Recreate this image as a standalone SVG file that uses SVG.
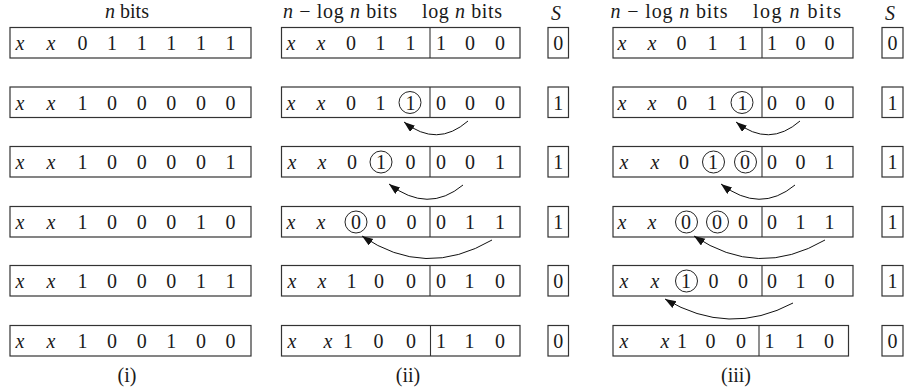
<svg xmlns="http://www.w3.org/2000/svg" width="904" height="389" viewBox="0 0 904 389">
<style>
text{text-anchor:middle}
.v{font-style:italic}
.box{fill:none;stroke:#333;stroke-width:1.2}
.div{stroke:#333;stroke-width:1.1}
.c{fill:none;stroke:#222;stroke-width:1}
.arr{fill:none;stroke:#111;stroke-width:1;marker-end:url(#ah)}
</style>
<defs>
<marker id="ah" markerUnits="userSpaceOnUse" markerWidth="12" markerHeight="9" refX="11" refY="4" orient="auto">
<path d="M0,0 L11,4 L0,8 z" fill="#111"/>
</marker>
</defs>
<rect width="904" height="389" fill="#fff"/>
<g font-family="'Liberation Serif', 'Times New Roman', serif" font-size="20" fill="#1a1a1a">
<g id="labels">
<text x="127" y="18"><tspan class="v">n</tspan> bits</text>
<text x="340" y="18" textLength="114" lengthAdjust="spacing"><tspan class="v">n</tspan> − log <tspan class="v">n</tspan> bits</text>
<text x="462" y="18" textLength="80" lengthAdjust="spacing">log <tspan class="v">n</tspan> bits</text>
<text x="556" y="20" class="v">S</text>
<text x="669" y="18" textLength="117" lengthAdjust="spacing"><tspan class="v">n</tspan> − log <tspan class="v">n</tspan> bits</text>
<text x="797" y="18" textLength="88" lengthAdjust="spacing">log <tspan class="v">n</tspan> bits</text>
<text x="890" y="20" class="v">S</text>
<text x="127" y="382">(i)</text>
<text x="408" y="382">(ii)</text>
<text x="736" y="382">(iii)</text>
</g>

<!-- Panel (i) -->
<g id="p1-r1">
<rect class="box" x="10" y="27.5" width="241" height="30.5"/>
<text class="v" x="20" y="50">x</text><text class="v" x="51" y="50">x</text>
<text x="82.5" y="50">0</text><text x="112" y="50">1</text><text x="141.7" y="50">1</text><text x="171.3" y="50">1</text><text x="201" y="50">1</text><text x="230.5" y="50">1</text>
</g>
<g id="p1-r2">
<rect class="box" x="10" y="87" width="241" height="30.5"/>
<text class="v" x="20" y="109.5">x</text><text class="v" x="51" y="109.5">x</text>
<text x="82.5" y="109.5">1</text><text x="112" y="109.5">0</text><text x="141.7" y="109.5">0</text><text x="171.3" y="109.5">0</text><text x="201" y="109.5">0</text><text x="230.5" y="109.5">0</text>
</g>
<g id="p1-r3">
<rect class="box" x="10" y="146.5" width="241" height="30.5"/>
<text class="v" x="20" y="169">x</text><text class="v" x="51" y="169">x</text>
<text x="82.5" y="169">1</text><text x="112" y="169">0</text><text x="141.7" y="169">0</text><text x="171.3" y="169">0</text><text x="201" y="169">0</text><text x="230.5" y="169">1</text>
</g>
<g id="p1-r4">
<rect class="box" x="10" y="206.5" width="241" height="30.5"/>
<text class="v" x="20" y="229">x</text><text class="v" x="51" y="229">x</text>
<text x="82.5" y="229">1</text><text x="112" y="229">0</text><text x="141.7" y="229">0</text><text x="171.3" y="229">0</text><text x="201" y="229">1</text><text x="230.5" y="229">0</text>
</g>
<g id="p1-r5">
<rect class="box" x="10" y="265.5" width="241" height="30.5"/>
<text class="v" x="20" y="288">x</text><text class="v" x="51" y="288">x</text>
<text x="82.5" y="288">1</text><text x="112" y="288">0</text><text x="141.7" y="288">0</text><text x="171.3" y="288">0</text><text x="201" y="288">1</text><text x="230.5" y="288">1</text>
</g>
<g id="p1-r6">
<rect class="box" x="10" y="325.5" width="241" height="30.5"/>
<text class="v" x="20" y="348">x</text><text class="v" x="51" y="348">x</text>
<text x="82.5" y="348">1</text><text x="112" y="348">0</text><text x="141.7" y="348">0</text><text x="171.3" y="348">1</text><text x="201" y="348">0</text><text x="230.5" y="348">0</text>
</g>

<!-- Panel (ii) -->
<g id="p2-r1">
<rect class="box" x="281.5" y="27.5" width="238.5" height="30.5"/>
<line class="div" x1="430" y1="27.5" x2="430" y2="58"/>
<text class="v" x="291" y="50">x</text><text class="v" x="321" y="50">x</text>
<text x="351" y="50">0</text><text x="380.5" y="50">1</text><text x="410.5" y="50">1</text>
<text x="441" y="50">1</text><text x="470" y="50">0</text><text x="500" y="50">0</text>
</g>
<g id="p2-r2">
<rect class="box" x="281.5" y="87" width="238.5" height="30.5"/>
<line class="div" x1="430" y1="87" x2="430" y2="117.5"/>
<text class="v" x="291" y="109.5">x</text><text class="v" x="321" y="109.5">x</text>
<text x="351" y="109.5">0</text><text x="380.5" y="109.5">1</text><text x="410.5" y="109.5">1</text>
<circle class="c" cx="410" cy="102.5" r="11"/>
<text x="441" y="109.5">0</text><text x="470" y="109.5">0</text><text x="500" y="109.5">0</text>
</g>
<g id="p2-r3">
<rect class="box" x="281.5" y="146.5" width="238.5" height="30.5"/>
<line class="div" x1="430" y1="146.5" x2="430" y2="177"/>
<text class="v" x="292" y="169">x</text><text class="v" x="322" y="169">x</text>
<text x="352" y="169">0</text><text x="381" y="169">1</text><text x="410.5" y="169">0</text>
<circle class="c" cx="381" cy="162" r="11"/>
<text x="441" y="169">0</text><text x="470" y="169">0</text><text x="500" y="169">1</text>
</g>
<g id="p2-r4">
<rect class="box" x="281.5" y="206.5" width="238.5" height="30.5"/>
<line class="div" x1="430" y1="206.5" x2="430" y2="237"/>
<text class="v" x="291" y="229">x</text><text class="v" x="321" y="229">x</text>
<text x="356" y="229">0</text><text x="381" y="229">0</text><text x="411.5" y="229">0</text>
<circle class="c" cx="356" cy="222" r="11"/>
<text x="441" y="229">0</text><text x="470" y="229">1</text><text x="500" y="229">1</text>
</g>
<g id="p2-r5">
<rect class="box" x="281.5" y="265.5" width="238.5" height="30.5"/>
<line class="div" x1="430" y1="265.5" x2="430" y2="296"/>
<text class="v" x="292" y="288">x</text><text class="v" x="322" y="288">x</text>
<text x="351.5" y="288">1</text><text x="379" y="288">0</text><text x="411" y="288">0</text>
<text x="441" y="288">0</text><text x="469.5" y="288">1</text><text x="500" y="288">0</text>
</g>
<g id="p2-r6">
<rect class="box" x="281.5" y="325.5" width="238.5" height="30.5"/>
<line class="div" x1="430.5" y1="325.5" x2="430.5" y2="356"/>
<text class="v" x="292" y="348">x</text><text class="v" x="328" y="348">x</text>
<text x="348" y="348">1</text><text x="378.5" y="348">0</text><text x="411" y="348">0</text>
<text x="441" y="348">1</text><text x="469.5" y="348">1</text><text x="500" y="348">0</text>
</g>
<g id="p2-s">
<rect class="box" x="548" y="27.5" width="20.5" height="30.5"/><text x="558.2" y="50">0</text>
<rect class="box" x="548" y="87" width="20.5" height="30.5"/><text x="558.2" y="109.5">1</text>
<rect class="box" x="548" y="146.5" width="20.5" height="30.5"/><text x="558.2" y="169">1</text>
<rect class="box" x="548" y="206.5" width="20.5" height="30.5"/><text x="558.2" y="229">1</text>
<rect class="box" x="548" y="265.5" width="20.5" height="30.5"/><text x="558.2" y="288">0</text>
<rect class="box" x="548" y="325.5" width="20.5" height="30.5"/><text x="558.2" y="348">0</text>
</g>

<!-- Panel (iii) -->
<g id="p3-r1">
<rect class="box" x="613" y="27.5" width="240" height="30.5"/>
<line class="div" x1="762" y1="27.5" x2="762" y2="58"/>
<text class="v" x="622" y="50">x</text><text class="v" x="652" y="50">x</text>
<text x="681.5" y="50">0</text><text x="712.5" y="50">1</text><text x="742.5" y="50">1</text>
<text x="772" y="50">1</text><text x="800.5" y="50">0</text><text x="829.5" y="50">0</text>
</g>
<g id="p3-r2">
<rect class="box" x="613" y="87" width="240" height="30.5"/>
<line class="div" x1="762" y1="87" x2="762" y2="117.5"/>
<text class="v" x="622" y="109.5">x</text><text class="v" x="652" y="109.5">x</text>
<text x="682" y="109.5">0</text><text x="712" y="109.5">1</text><text x="742.5" y="109.5">1</text>
<circle class="c" cx="742" cy="102.5" r="11"/>
<text x="772" y="109.5">0</text><text x="800.5" y="109.5">0</text><text x="829.5" y="109.5">0</text>
</g>
<g id="p3-r3">
<rect class="box" x="613" y="146.5" width="240" height="30.5"/>
<line class="div" x1="762" y1="146.5" x2="762" y2="177"/>
<text class="v" x="624" y="169">x</text><text class="v" x="655" y="169">x</text>
<text x="684" y="169">0</text><text x="713" y="169">1</text><text x="745" y="169">0</text>
<circle class="c" cx="713.5" cy="162" r="11"/>
<circle class="c" cx="745.5" cy="162" r="11"/>
<text x="772" y="169">0</text><text x="800.5" y="169">0</text><text x="829.5" y="169">1</text>
</g>
<g id="p3-r4">
<rect class="box" x="613" y="206.5" width="240" height="30.5"/>
<line class="div" x1="762" y1="206.5" x2="762" y2="237"/>
<text class="v" x="622" y="229">x</text><text class="v" x="652" y="229">x</text>
<text x="686" y="229">0</text><text x="717" y="229">0</text><text x="743" y="229">0</text>
<circle class="c" cx="686.5" cy="222" r="11"/>
<circle class="c" cx="717.5" cy="222" r="11"/>
<text x="772" y="229">0</text><text x="800.5" y="229">1</text><text x="829.5" y="229">1</text>
</g>
<g id="p3-r5">
<rect class="box" x="613" y="265.5" width="240" height="30.5"/>
<line class="div" x1="762" y1="265.5" x2="762" y2="296"/>
<text class="v" x="624" y="288">x</text><text class="v" x="655" y="288">x</text>
<text x="686" y="288">1</text><text x="713.5" y="288">0</text><text x="743" y="288">0</text>
<circle class="c" cx="686.5" cy="281" r="11"/>
<text x="772" y="288">0</text><text x="800.5" y="288">1</text><text x="829.5" y="288">0</text>
</g>
<g id="p3-r6">
<rect class="box" x="613" y="325.5" width="235.5" height="30.5"/>
<line class="div" x1="759" y1="325.5" x2="759" y2="356"/>
<text class="v" x="624" y="348">x</text><text class="v" x="665" y="348">x</text>
<text x="682" y="348">1</text><text x="710.5" y="348">0</text><text x="741" y="348">0</text>
<text x="769.5" y="348">1</text><text x="800" y="348">1</text><text x="829" y="348">0</text>
</g>
<g id="p3-s">
<rect class="box" x="882" y="27.5" width="21" height="30.5"/><text x="892.5" y="50">0</text>
<rect class="box" x="882" y="87" width="21" height="30.5"/><text x="892.5" y="109.5">1</text>
<rect class="box" x="882" y="146.5" width="21" height="30.5"/><text x="892.5" y="169">1</text>
<rect class="box" x="882" y="206.5" width="21" height="30.5"/><text x="892.5" y="229">1</text>
<rect class="box" x="882" y="265.5" width="21" height="30.5"/><text x="892.5" y="288">1</text>
<rect class="box" x="882" y="325.5" width="21" height="30.5"/><text x="892.5" y="348">0</text>
</g>
</g>
<g id="connectors">
<path class="arr" d="M468,121 Q437,148 404,122"/>
<path class="arr" d="M463,185 Q428,214 389,184"/>
<path class="arr" d="M492,240 Q425,279 362,236"/>
<path class="arr" d="M800,121 Q769,148 736,122"/>
<path class="arr" d="M795,185 Q760,214 721,184"/>
<path class="arr" d="M825,240 Q758,279 694,236"/>
<path class="arr" d="M793,303 Q729,337 665,299"/>
</g>
</svg>
